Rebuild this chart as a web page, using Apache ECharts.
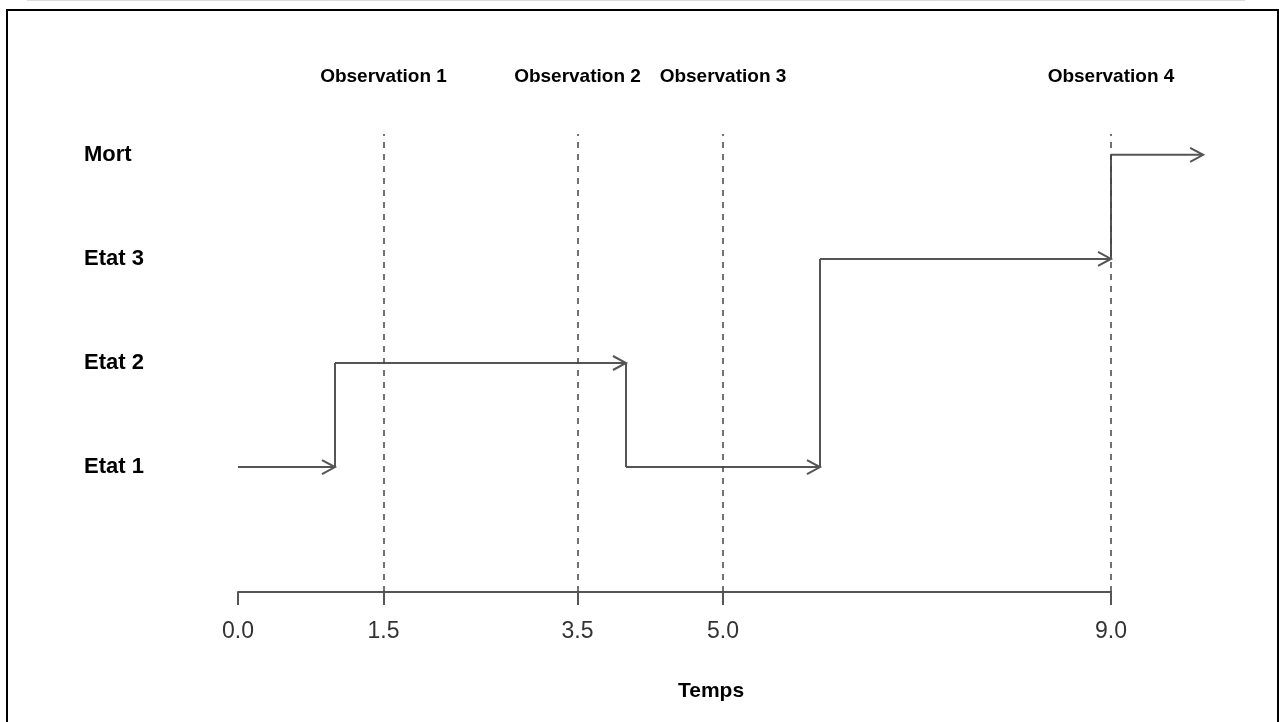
<!DOCTYPE html>
<html>
<head>
<meta charset="utf-8">
<script src="https://cdn.jsdelivr.net/npm/echarts@6/dist/echarts.min.js"></script>
<style>
html,body{margin:0;padding:0;background:#fff;}
#chart{width:1279px;height:722px;}
</style>
</head>
<body>
<div id="chart"></div>
<script>
// ---- data ----
const states = ['Etat 1', 'Etat 2', 'Etat 3', 'Mort'];
const stateLevels = [1, 2, 3, 4];
const segStart = [0, 1.0, 4.0, 6.0, 9.0];
const segEnd = [1.0, 4.0, 6.0, 9.0, 9.95];
const segState = [1, 2, 1, 3, 4];
const obsTimes = [1.5, 3.5, 5.0, 9.0];
const obsLabels = ['Observation 1', 'Observation 2', 'Observation 3', 'Observation 4'];
const tickValues = [0, 1.5, 3.5, 5.0, 9.0];
const tickLabels = ['0.0', '1.5', '3.5', '5.0', '9.0'];
const axisTitle = 'Temps';

const FONT = "'Liberation Sans', Arial, Helvetica, sans-serif";
const segData = segStart.map((s, i) => [
  s, segEnd[i], segState[i],
  i + 1 < segState.length ? segState[i + 1] : segState[i]
]);

const chart = echarts.init(document.getElementById('chart'), null, {renderer: 'canvas'});
const LINE = '#555';

chart.setOption({
  animation: false,
  backgroundColor: '#fff',
  grid: {left: 238, right: 168, top: 134, bottom: 130},
  xAxis: [{
    type: 'value', min: 0, max: 9, position: 'bottom',
    splitLine: {show: false},
    axisLine: {show: true, onZero: false, lineStyle: {color: LINE, width: 2}},
    axisTick: {show: true, customValues: tickValues, length: 13, lineStyle: {color: LINE, width: 2}},
    axisLabel: {
      customValues: tickValues,
      formatter: v => tickLabels[tickValues.indexOf(v)],
      margin: 28, fontSize: 23, color: '#333', fontFamily: FONT
    }
  }, {
    type: 'value', min: 0, max: 9, position: 'top',
    splitLine: {show: false},
    axisLine: {show: false, onZero: false},
    axisTick: {show: false},
    axisLabel: {
      customValues: obsTimes,
      formatter: v => obsLabels[obsTimes.indexOf(v)],
      margin: 48, fontSize: 19, fontWeight: 'bold', color: '#000', fontFamily: FONT
    }
  }],
  yAxis: {
    type: 'value', min: -0.2, max: 4.2,
    splitLine: {show: false},
    axisLine: {show: false, onZero: false},
    axisTick: {show: false},
    axisLabel: {
      customValues: stateLevels,
      formatter: v => states[stateLevels.indexOf(v)],
      align: 'left', margin: 154,
      fontSize: 22, fontWeight: 'bold', color: '#000', fontFamily: FONT
    }
  },
  graphic: [
    {type: 'line', shape: {x1: 27, y1: 0.5, x2: 1245, y2: 0.5}, style: {stroke: '#ddd', lineWidth: 1}},
    {type: 'rect', shape: {x: 7, y: 10, width: 1271, height: 740}, style: {fill: null, stroke: '#000', lineWidth: 2}},
    {type: 'text', x: 711, y: 691, style: {text: axisTitle, x: 0, y: 0, align: 'center', verticalAlign: 'middle',
      font: "bold 21px " + FONT, fill: '#000'}}
  ],
  series: [{
    type: 'custom',
    clip: false,
    xAxisIndex: 0,
    data: segData,
    encode: {x: [0, 1], y: [2, 3]},
    renderItem: function (params, api) {
      const s = api.value(0), e = api.value(1), st = api.value(2), nx = api.value(3);
      const p0 = api.coord([s, st]);
      const p1 = api.coord([e, st]);
      const children = [
        {type: 'line', shape: {x1: p0[0], y1: p0[1], x2: p1[0], y2: p1[1]},
         style: {stroke: LINE, lineWidth: 2}},
        {type: 'polyline', shape: {points: [[p1[0] - 13, p1[1] - 7], [p1[0], p1[1]], [p1[0] - 13, p1[1] + 7]]},
         style: {stroke: LINE, lineWidth: 2, fill: null}}
      ];
      if (nx !== st) {
        const p2 = api.coord([e, nx]);
        children.push({type: 'line', shape: {x1: p1[0], y1: p1[1], x2: p2[0], y2: p2[1]},
          style: {stroke: LINE, lineWidth: 2}});
      }
      return {type: 'group', children: children};
    },
    markLine: {
      silent: true,
      symbol: 'none',
      label: {show: false},
      lineStyle: {type: [6, 6], color: '#444', width: 1.5},
      data: obsTimes.map(t => ({xAxis: t}))
    }
  }]
});
</script>
</body>
</html>
